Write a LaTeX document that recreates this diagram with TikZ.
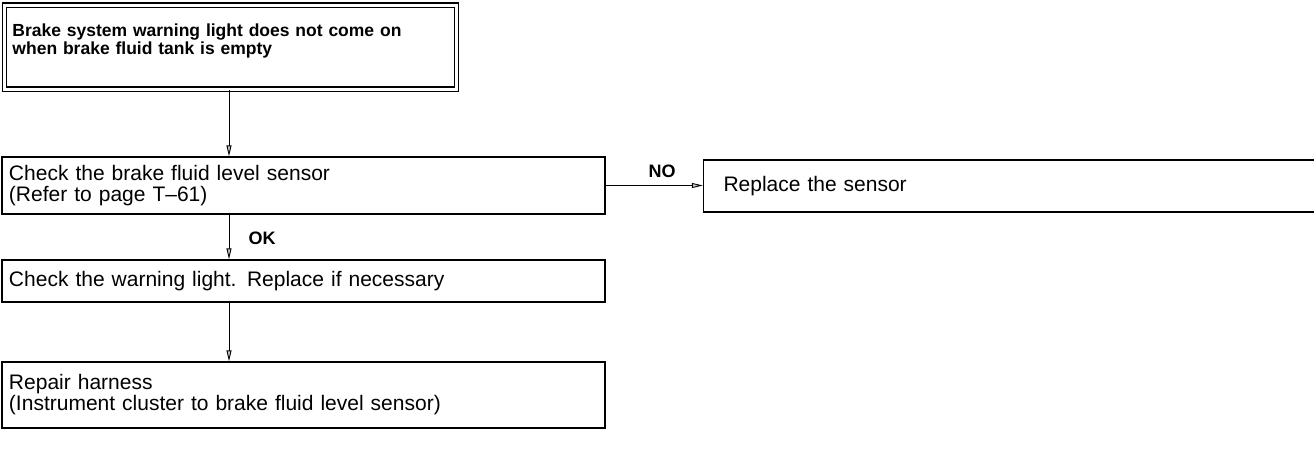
\documentclass[tikz,border=0pt]{standalone}
\usepackage{fontspec}
\setmainfont{Liberation Sans}
\usetikzlibrary{arrows.meta}
\begin{document}
\begin{tikzpicture}[x=1pt,y=-1pt,
  box/.style={draw, line width=1.3pt, rectangle, inner xsep=7pt, inner ysep=0pt, align=left,
    font=\fontsize{21}{21}\selectfont},
  titlebox/.style={draw, line width=1.2pt, double, double distance=3pt, rectangle, inner xsep=8pt,
    inner ysep=0pt, align=left, font=\fontsize{17.5}{18.5}\selectfont\bfseries},
  lbl/.style={font=\fontsize{18}{19}\selectfont\bfseries},
  conn/.style={line width=0.9pt, -{Triangle[length=11pt,width=5pt,open,fill=gray!45]}}]
\useasboundingbox (0,0) rectangle (1314,458);
\coordinate (ax) at (229,0);
\node[titlebox, minimum height=84pt, text width=436pt] (t) at (230.5,47)
  {Brake system warning light does not come on\\when brake fluid tank is empty\\[-3pt]\mbox{}};
\node[box, minimum height=57pt, text width=589pt] (b2) at (303.5,185.5)
  {Check the brake fluid level sensor\\(Refer to page T--61)};
\node[box, minimum height=52pt, text width=573pt, inner xsep=20pt] (b3) at (1010,186)
  {Replace the sensor};
\node[box, minimum height=42pt, text width=589pt] (b4) at (303.5,281)
  {Check the warning light. Replace if necessary};
\node[box, minimum height=66pt, text width=589pt] (b5) at (303.5,395)
  {Repair harness\\(Instrument cluster to brake fluid level sensor)};
\draw[conn] (ax |- t.south) -- (ax |- b2.north);
\draw[conn] (b2.east) -- (b3.west |- b2.east);
\node[lbl] (no) at (662,171) {NO};
\draw[conn] (ax |- b2.south) -- (ax |- b4.north);
\node[lbl] (ok) at (262,238) {OK};
\draw[conn] (ax |- b4.south) -- (ax |- b5.north);
\end{tikzpicture}
\end{document}
